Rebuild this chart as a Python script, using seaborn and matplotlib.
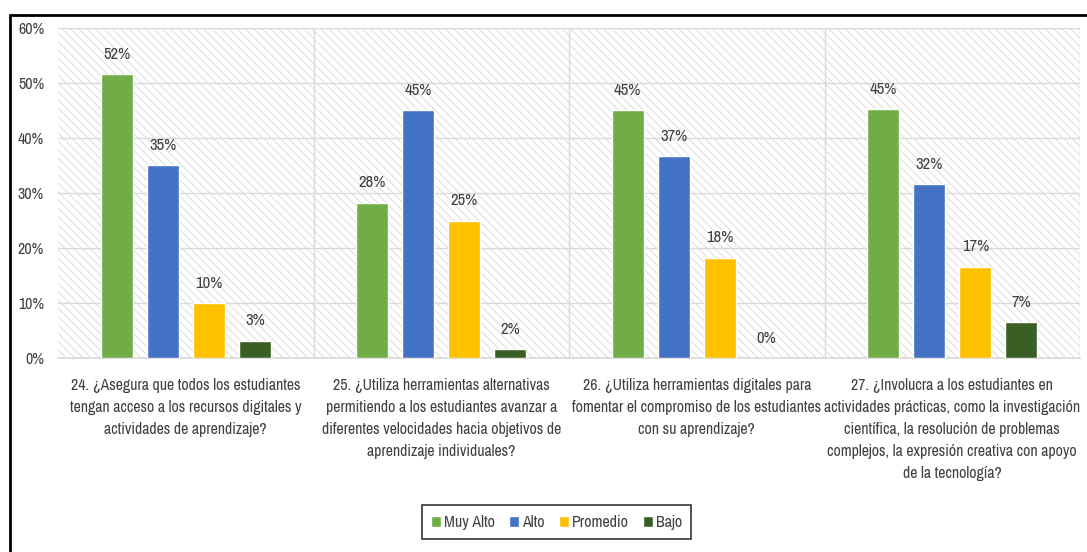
import matplotlib
matplotlib.use("Agg")
import matplotlib.pyplot as plt
from matplotlib.patches import Rectangle
from matplotlib.lines import Line2D
from matplotlib import font_manager
import pandas as pd
import seaborn as sns

preguntas = [
    "24. ¿Asegura que todos los estudiantes\ntengan acceso a los recursos digitales y\nactividades de aprendizaje?",
    "25. ¿Utiliza herramientas alternativas\npermitiendo a los estudiantes avanzar a\ndiferentes velocidades hacia objetivos de\naprendizaje individuales?",
    "26. ¿Utiliza herramientas digitales para\nfomentar el compromiso de los estudiantes\ncon su aprendizaje?",
    "27. ¿Involucra a los estudiantes en\nactividades prácticas, como la investigación\ncientífica, la resolución de problemas\ncomplejos, la expresión creativa con apoyo\nde la tecnología?",
]
niveles = ["Muy Alto", "Alto", "Promedio", "Bajo"]

muy_alto = [51.6, 28.3, 45.1, 45.3]
alto = [35.1, 45.1, 36.7, 31.6]
promedio = [10.0, 25.0, 18.3, 16.6]
bajo = [3.2, 1.6, 0.0, 6.5]

etiquetas = {
    "Muy Alto": ["52%", "28%", "45%", "45%"],
    "Alto": ["35%", "45%", "37%", "32%"],
    "Promedio": ["10%", "25%", "18%", "17%"],
    "Bajo": ["3%", "2%", "0%", "7%"],
}

colores = ["#70AD47", "#4472C4", "#FFC000", "#3A5F24"]

rows = []
for nivel, vals in zip(niveles, [muy_alto, alto, promedio, bajo]):
    for p, v in zip(preguntas, vals):
        rows.append({"Pregunta": p, "Nivel": nivel, "Valor": v})
df = pd.DataFrame(rows)

sns.set_theme(style="white")

# pick a narrow font if one is around, otherwise Roboto
fonts = font_manager.fontManager.ttflist
names = {f.name for f in fonts}
narrow = [f.name for f in fonts if "Narrow" in f.name or "Condensed" in f.name]
stretch = "normal"
if narrow:
    fam = narrow[0]
elif any(f.name == "DejaVu Sans" and f.stretch in ("condensed", "semi-condensed") for f in fonts):
    fam, stretch = "DejaVu Sans", "condensed"
elif "Roboto" in names:
    fam = "Roboto"
else:
    fam = "DejaVu Sans"
plt.rcParams["font.family"] = [fam, "DejaVu Sans"]
plt.rcParams["font.stretch"] = stretch
plt.rcParams["hatch.linewidth"] = 0.6
txt = "#404040"
k = 1.0 if narrow else 0.87
cat_size = 11.4 * k
lab_size = 12 * k

fig = plt.figure(figsize=(10.87, 5.52), dpi=100)
ax = fig.add_axes([0.0534, 0.351, 0.9402, 0.598])

# hatched plot background
ax.add_patch(Rectangle((0, 0), 1, 1, transform=ax.transAxes, facecolor="white",
                       edgecolor="#d6d6d6", hatch="\\\\\\\\", lw=0, zorder=0))

sns.barplot(data=df, x="Pregunta", y="Valor", hue="Nivel", order=preguntas,
            hue_order=niveles, palette=colores, width=0.72, gap=0.3,
            saturation=1, ax=ax, zorder=3, legend=True)

for cont, nivel in zip(ax.containers, niveles):
    ax.bar_label(cont, labels=etiquetas[nivel], padding=9, fontsize=lab_size, color=txt)

ax.set_ylim(0, 60)
ax.set_xlim(-0.5, 3.5)
ax.set_yticks(range(0, 61, 10))
ax.set_yticklabels([f"{t}%" for t in range(0, 61, 10)], fontsize=11.5 * k, color=txt)
ax.tick_params(axis="x", labelcolor=txt, pad=14, length=0)
ax.tick_params(axis="y", pad=10, length=0)
for lab in ax.get_xticklabels():
    lab.set_fontsize(cat_size)
    lab.set_linespacing(1.58)
ax.set_xlabel("")
ax.set_ylabel("")

for y in range(10, 61, 10):
    ax.axhline(y, color="#d9d9d9", lw=1, zorder=1)
for x in [0.5, 1.5, 2.5, 3.5]:
    ax.axvline(x, color="#d9d9d9", lw=1, zorder=1)

for s in ["top", "right", "left"]:
    ax.spines[s].set_visible(False)
ax.spines["bottom"].set_color("#d9d9d9")

handles, labels = ax.get_legend_handles_labels()
ax.legend_.remove()
leg = fig.legend(handles, labels, loc="center", bbox_to_anchor=(0.512, 0.054),
                 ncol=4, frameon=True, fontsize=11.5 * k, handlelength=0.6,
                 handleheight=0.7, handletextpad=0.2, columnspacing=0.9,
                 borderpad=0.6, fancybox=False)
leg.get_frame().set_edgecolor("black")
leg.get_frame().set_linewidth(1.2)
for t in leg.get_texts():
    t.set_color(txt)

# outer border (top and left)
fig.add_artist(Line2D([0.009, 1.0], [0.973, 0.973], color="black", lw=2, transform=fig.transFigure))
fig.add_artist(Line2D([0.009, 0.009], [0.0, 0.973], color="black", lw=2, transform=fig.transFigure))

fig.savefig("out.png", dpi=100)
